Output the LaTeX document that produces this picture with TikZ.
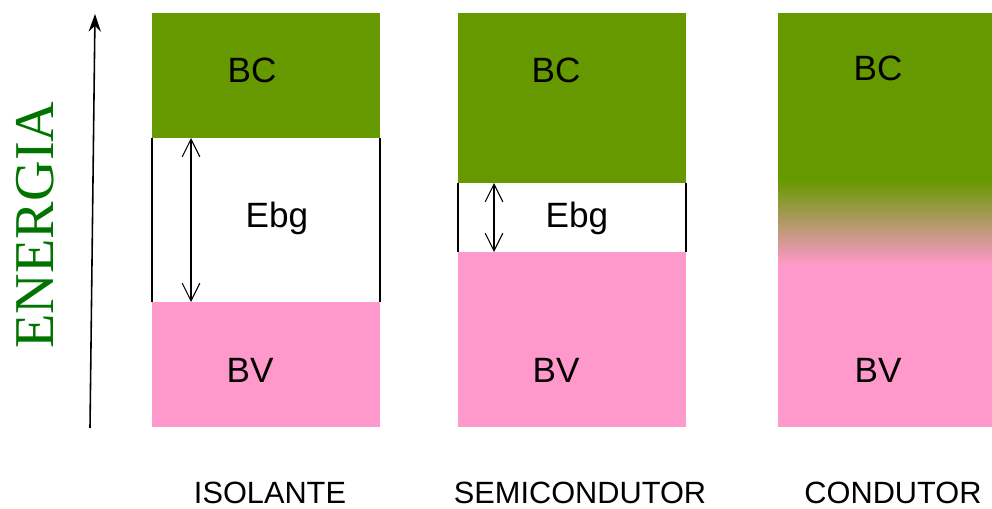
\documentclass[tikz,border=0pt]{standalone}
\usepackage{fontspec}
\setmainfont{Liberation Serif}
\setsansfont{Liberation Sans}
\usetikzlibrary{arrows.meta}
\definecolor{bcgreen}{RGB}{102,153,0}
\definecolor{bvpink}{RGB}{255,153,204}
\definecolor{energygreen}{RGB}{0,115,0}

\begin{document}
\begin{tikzpicture}[x=0.02cm, y=0.02cm,
  bandtext/.style={font=\sffamily\fontsize{20}{24}\selectfont},
  kindtext/.style={font=\sffamily\fontsize{17.5}{21}\selectfont, inner sep=0pt, anchor=base},
  gapline/.style={line width=0.8pt},
  gaparrow/.style={line width=0.6pt,
    {Straight Barb[length=10pt,width=10pt]}-{Straight Barb[length=10pt,width=10pt]}}]
  \useasboundingbox (0,0) rectangle (992,508);
  % energy axis
  \coordinate (axis0) at (90,80);
  \coordinate (axis1) at (95,494);
  \draw[line width=0.9pt, -{Stealth[length=10pt,width=7pt]}] (axis0) -- (axis1);
  \node[rotate=90, text=energygreen, font=\fontsize{32}{32}\selectfont] (energia) at (35,283) {ENERGIA};
  % insulator: wide gap
  \fill[bcgreen] (152,370) rectangle (380,495);
  \fill[bvpink] (152,81) rectangle (380,206);
  \draw[gapline] (152,206) -- (152,370) (380,206) -- (380,370);
  \coordinate (isogap0) at (191,206);
  \coordinate (isogap1) at (191,370);
  \draw[gaparrow] (isogap0) -- (isogap1);
  \node[bandtext] (isobc) at (252,438) {BC};
  \node[bandtext] (isoebg) at (277,290) {Ebg};
  \node[bandtext] (isobv) at (250,138) {BV};
  \node[kindtext] (iso) at (270,5) {ISOLANTE};
  % semiconductor: narrow gap
  \fill[bcgreen] (458,325) rectangle (686,495);
  \fill[bvpink] (458,81) rectangle (686,256);
  \draw[gapline] (458,256) -- (458,325) (686,256) -- (686,325);
  \coordinate (semgap0) at (494,256);
  \coordinate (semgap1) at (494,325);
  \draw[gaparrow] (semgap0) -- (semgap1);
  \node[bandtext] (sembc) at (556,438) {BC};
  \node[bandtext] (semebg) at (577,290) {Ebg};
  \node[bandtext] (sembv) at (556,138) {BV};
  \node[kindtext] (sem) at (580,5) {SEMICONDUTOR};
  % conductor: bands overlap, soft edge between them
  \fill[bcgreen] (778,328) rectangle (992,495);
  \fill[bvpink] (778,81) rectangle (992,243);
  \shade[top color=bcgreen, bottom color=bvpink] (778,243) rectangle (992,328);
  \node[bandtext] (conbc) at (878,440) {BC};
  \node[bandtext] (conbv) at (878,138) {BV};
  \node[kindtext] (con) at (893,5) {CONDUTOR};
\end{tikzpicture}
\end{document}
